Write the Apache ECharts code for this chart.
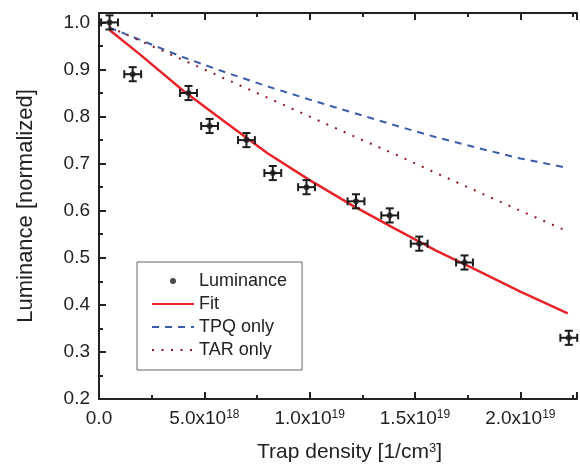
<!DOCTYPE html>
<html>
<head>
<meta charset="utf-8">
<script src="https://cdn.jsdelivr.net/npm/echarts@6/dist/echarts.min.js"></script>
<style>html,body{margin:0;padding:0;background:#fff}#c{width:580px;height:470px}</style>
</head>
<body>
<div id="c"></div>
<script>
// Trap density in units of 1e18 cm^-3
const pointX = [0.5, 1.6, 4.25, 5.25, 7.0, 8.25, 9.85, 12.2, 13.8, 15.2, 17.35, 22.3];
const pointY = [1.0, 0.89, 0.85, 0.78, 0.75, 0.68, 0.65, 0.62, 0.59, 0.53, 0.49, 0.33];
const errX = [0.4, 0.4, 0.4, 0.4, 0.4, 0.4, 0.4, 0.4, 0.4, 0.4, 0.4, 0.4];
const errY = [0.015, 0.015, 0.015, 0.015, 0.015, 0.015, 0.015, 0.015, 0.015, 0.015, 0.015, 0.015];

const curveX = [0.5, 2, 4, 6, 8, 10, 12, 14, 16, 18, 20, 22.25];
const fitY = [0.984, 0.930, 0.855, 0.788, 0.722, 0.665, 0.612, 0.563, 0.515, 0.472, 0.428, 0.382];
const tpqY = [0.989, 0.962, 0.926, 0.894, 0.864, 0.836, 0.809, 0.782, 0.756, 0.733, 0.711, 0.691];
const tarY = [0.990, 0.960, 0.920, 0.880, 0.840, 0.800, 0.760, 0.721, 0.680, 0.640, 0.600, 0.556];

const xTickLabels = {0: '0.0', 5: '5.0x10|18', 10: '1.0x10|19', 15: '1.5x10|19', 20: '2.0x10|19'};
const yTickLabels = ['0.2', '0.3', '0.4', '0.5', '0.6', '0.7', '0.8', '0.9', '1.0'];

const FONT = 'Liberation Sans';
const INK = '#222';

function zip(xs, ys) { return xs.map((x, i) => [x, ys[i]]); }

function xFmt(v) {
  const key = Math.round(v * 100) / 100;
  const s = xTickLabels[key];
  if (s === undefined) return '';
  const parts = s.split('|');
  if (parts.length === 1) return '{n|' + parts[0] + '}';
  return '{n|' + parts[0] + '}{s|' + parts[1] + '}';
}
function yFmt(v) {
  const s = v.toFixed(1);
  if (Math.abs(parseFloat(s) - v) > 1e-6) return '';
  return yTickLabels.indexOf(s) >= 0 ? s : '';
}

const X_MIN = 0, X_MAX = 22.69, Y_MIN = 0.2, Y_MAX = 1.02;

function xAx(pos, interval, len, showLine, showLabel, extra) {
  return Object.assign({
    type: 'value', position: pos, min: X_MIN, max: X_MAX, interval: interval,
    axisLine: {show: showLine, onZero: false, lineStyle: {color: INK, width: 2}},
    axisTick: {show: true, inside: true, length: len, lineStyle: {color: INK, width: 2}},
    axisLabel: {show: showLabel},
    splitLine: {show: false}
  }, extra || {});
}
function yAx(pos, interval, len, showLine, showLabel, extra) {
  return Object.assign({
    type: 'value', position: pos, min: Y_MIN, max: Y_MAX, interval: interval,
    axisLine: {show: showLine, onZero: false, lineStyle: {color: INK, width: 2}},
    axisTick: {show: true, inside: true, length: len, lineStyle: {color: INK, width: 2}},
    axisLabel: {show: showLabel},
    splitLine: {show: false}
  }, extra || {});
}

const chart = echarts.init(document.getElementById('c'), null, {renderer: 'canvas'});
chart.setOption({
  animation: false,
  backgroundColor: '#fff',
  textStyle: {fontFamily: FONT},
  grid: {left: 99, right: -2, top: 13, bottom: 71, containLabel: false},
  xAxis: [
    xAx('bottom', 5, 7, true, true, {
      axisLabel: {show: true, margin: 10, formatter: xFmt, color: INK,
        rich: {n: {fontSize: 19, fontFamily: FONT, color: INK},
               s: {fontSize: 12, fontFamily: FONT, color: INK, verticalAlign: 'top', lineHeight: 12}}},
      name: 'Trap density [1/cm{s|3}]', nameLocation: 'middle', nameGap: 43,
      nameTextStyle: {fontSize: 21, fontFamily: FONT, color: INK, padding: [0, 0, 0, 23],
        rich: {s: {fontSize: 13, fontFamily: FONT, color: INK, verticalAlign: 'top', lineHeight: 13}}}
    }),
    xAx('bottom', 2.5, 4, false, false),
    xAx('top', 5, 7, true, false),
    xAx('top', 2.5, 4, false, false)
  ],
  yAxis: [
    yAx('left', 0.1, 7, true, true, {
      axisLabel: {show: true, margin: 9, formatter: yFmt, fontSize: 19, fontFamily: FONT, color: INK},
      name: 'Luminance [normalized]', nameLocation: 'middle', nameGap: 62,
      nameTextStyle: {fontSize: 22, fontFamily: FONT, color: INK}
    }),
    yAx('left', 0.05, 4, false, false)
  ],
  legend: {
    show: true, orient: 'vertical', left: 137, top: 262,
    padding: [10, 15, 11, 14], itemGap: 5, itemWidth: 42, itemHeight: 6, itemTextGap: 6,
    borderColor: '#666', borderWidth: 1, backgroundColor: '#fff',
    textStyle: {fontSize: 18, fontFamily: FONT, color: INK},
    selectedMode: false,
    data: [
      {name: 'Luminance'},
      {name: 'Fit', itemStyle: {opacity: 0}},
      {name: 'TPQ only', itemStyle: {opacity: 0}},
      {name: 'TAR only', itemStyle: {opacity: 0}}
    ]
  },
  series: [
    {
      name: 'TPQ only', type: 'line', xAxisIndex: 0, yAxisIndex: 0, data: zip(curveX, tpqY),
      symbol: 'none', z: 2,
      lineStyle: {color: '#3b5cab', width: 2, type: [7, 6]}, itemStyle: {color: '#3b5cab'}
    },
    {
      name: 'TAR only', type: 'line', xAxisIndex: 0, yAxisIndex: 0, data: zip(curveX, tarY),
      symbol: 'none', z: 2,
      lineStyle: {color: '#8e1c22', width: 2, type: [2, 7.5]}, itemStyle: {color: '#8e1c22'}
    },
    {
      name: 'Fit', type: 'line', xAxisIndex: 0, yAxisIndex: 0, data: zip(curveX, fitY),
      symbol: 'none', z: 3,
      lineStyle: {color: '#e8232a', width: 2.5}, itemStyle: {color: '#e8232a'}
    },
    {
      name: 'errorbars', type: 'custom', xAxisIndex: 0, yAxisIndex: 0, z: 4,
      data: pointX.map((x, i) => [x, pointY[i], errX[i], errY[i]]),
      renderItem: function (params, api) {
        const x = api.value(0), y = api.value(1), ex = api.value(2), ey = api.value(3);
        const c = api.coord([x, y]);
        const l = api.coord([x - ex, y]), r = api.coord([x + ex, y]);
        const t = api.coord([x, y + ey]), b = api.coord([x, y - ey]);
        const cap = 4;
        const st = {stroke: '#1c1c1c', lineWidth: 2, fill: null};
        return {type: 'group', children: [
          {type: 'line', shape: {x1: l[0], y1: c[1], x2: r[0], y2: c[1]}, style: st},
          {type: 'line', shape: {x1: l[0], y1: c[1] - cap, x2: l[0], y2: c[1] + cap}, style: st},
          {type: 'line', shape: {x1: r[0], y1: c[1] - cap, x2: r[0], y2: c[1] + cap}, style: st},
          {type: 'line', shape: {x1: c[0], y1: t[1], x2: c[0], y2: b[1]}, style: st},
          {type: 'line', shape: {x1: c[0] - cap, y1: t[1], x2: c[0] + cap, y2: t[1]}, style: st},
          {type: 'line', shape: {x1: c[0] - cap, y1: b[1], x2: c[0] + cap, y2: b[1]}, style: st}
        ]};
      }
    },
    {
      name: 'Luminance', type: 'scatter', xAxisIndex: 0, yAxisIndex: 0, z: 5,
      data: zip(pointX, pointY), symbol: 'circle', symbolSize: 6,
      itemStyle: {color: '#1c1c1c'}
    }
  ]
});
</script>
</body>
</html>
